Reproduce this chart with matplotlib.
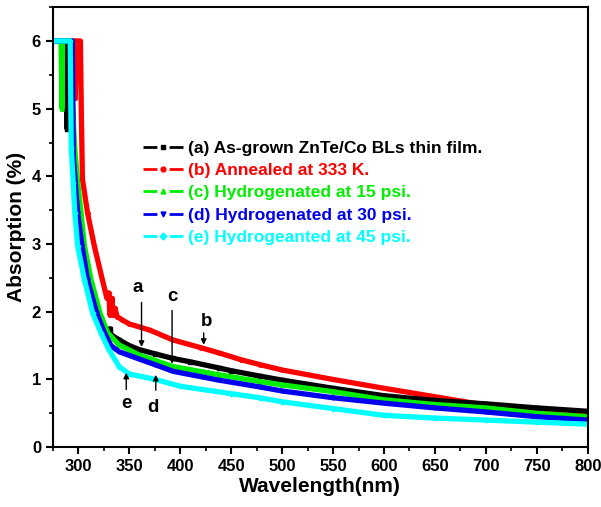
import matplotlib
matplotlib.use("Agg")
from matplotlib import pyplot as plt
from matplotlib.lines import Line2D
from matplotlib.ticker import MultipleLocator

plt.rcParams['font.family'] = ['Liberation Sans', 'DejaVu Sans']
plt.rcParams['font.weight'] = 'bold'

# (a) as-grown
wl_a = [275, 285, 288.5, 289, 289.5, 292, 296, 299, 303, 306, 309, 312, 316, 321, 325, 330, 331, 332,
        340, 350, 360, 375, 393, 410, 438, 450, 478, 500, 550, 600, 650, 700, 750, 800]
ab_a = [6, 6, 6, 4.7, 6, 6, 4.3, 3.7, 3.1, 2.85, 2.55, 2.35, 2.05, 1.85, 1.75, 1.68, 1.75, 1.66,
        1.585, 1.50, 1.44, 1.38, 1.31, 1.26, 1.17, 1.13, 1.05, 0.99, 0.87, 0.76, 0.69, 0.64, 0.58, 0.53]

# (b) annealed
wl_b = [285, 287.5, 288, 288.5, 296, 297, 298, 302, 303, 304, 309, 315.7, 323.6, 328, 330, 331, 332,
        333, 334, 336, 338, 343, 350, 370, 392.6, 420, 438.5, 460, 478, 500, 550, 600, 650, 700, 750, 800]
ab_b = [6, 6, 5.17, 6, 6, 5.15, 6, 6, 4.87, 3.96, 3.46, 2.97, 2.47, 2.2, 2.28, 1.95, 2.08,
        2.2, 1.95, 2.05, 1.93, 1.88, 1.82, 1.73, 1.585, 1.47, 1.39, 1.29, 1.22, 1.14, 1.0, 0.87, 0.745,
        0.62, 0.53, 0.47]

# (c) 15 psi
wl_c = [275, 283, 284, 284.5, 293, 294, 296, 299, 302.6, 306, 312.5, 321.3, 328.8, 340, 360, 393,
        438, 478, 500, 550, 600, 650, 700, 750, 800]
ab_c = [6, 6, 5.0, 6, 6, 5.2, 4.5, 3.95, 3.46, 2.97, 2.47, 1.98, 1.69, 1.51, 1.36, 1.19,
        1.07, 0.97, 0.92, 0.82, 0.70, 0.63, 0.58, 0.50, 0.45]

# (d) 30 psi
wl_d = [275, 294, 295, 297, 299.3, 303.6, 309, 318, 325.5, 332, 340, 360, 375, 393, 438, 478, 500,
        550, 600, 650, 700, 750, 800]
ab_d = [6, 6, 4.3, 3.9, 3.46, 2.97, 2.47, 1.98, 1.69, 1.50, 1.41, 1.30, 1.22, 1.12, 0.99, 0.89, 0.83,
        0.73, 0.65, 0.58, 0.52, 0.45, 0.40]

# (e) 45 psi
wl_e = [275, 292, 293, 295, 296.5, 299.3, 306, 314, 322, 330, 340, 350, 373, 400, 450, 478, 500,
        550, 600, 650, 700, 750, 800]
ab_e = [6, 6, 4.42, 3.9, 3.46, 2.97, 2.47, 1.98, 1.69, 1.44, 1.19, 1.08, 1.01, 0.90, 0.79, 0.73, 0.67,
        0.57, 0.47, 0.43, 0.40, 0.37, 0.34]

labels = ['(a) As-grown ZnTe/Co BLs thin film.', '(b) Annealed at 333 K.',
          '(c) Hydrogenated at 15 psi.', '(d) Hydrogenated at 30 psi.',
          '(e) Hydrogeanted at 45 psi.']
colors = ['black', 'red', '#00ee00', '#0000ee', 'cyan']
markers = ['s', 'o', '^', 'v', 'D']
series = [(wl_a, ab_a), (wl_b, ab_b), (wl_c, ab_c), (wl_d, ab_d), (wl_e, ab_e)]

# arrow annotations: letter, text position, arrow tail, arrow head
notes = [('a', (358, 2.36), (362, 2.18), (362, 1.44)),
         ('b', (426, 1.85), (423, 1.73), (423, 1.47)),
         ('c', (392, 2.22), (392, 2.06), (392, 1.19)),
         ('d', (373, 0.59), (376, 0.80), (376, 1.11)),
         ('e', (347, 0.65), (347, 0.81), (347, 1.14))]

fig = plt.figure(figsize=(6.01, 5.07), dpi=100)
ax = fig.add_axes([0.088, 0.118, 0.890, 0.868])

for i in [1, 0, 2, 3, 4]:
    wl, ab = series[i]
    ax.plot(wl, ab, color=colors[i], lw=3.8, marker=markers[i], ms=2.5)

for letter, tpos, tail, head in notes:
    ax.annotate('', xy=head, xytext=tail,
                arrowprops=dict(arrowstyle='-|>', color='black', lw=1, mutation_scale=8))
    ax.text(tpos[0], tpos[1], letter, fontsize=13.5, fontweight='bold', ha='center', va='center')

# legend handles: dash - symbol - dash
handles = [Line2D([], [], color=c, lw=2, marker=m, ms=3.5, dashes=(5, 4.4))
           for c, m in zip(colors, markers)]
leg = ax.legend(handles, labels, loc='upper left', bbox_to_anchor=(0.168, 0.697),
                frameon=False, fontsize=12.5, handlelength=2.3, handletextpad=0.3,
                labelspacing=0.42, borderpad=0, borderaxespad=0, numpoints=1)
for txt, c in zip(leg.get_texts(), colors):
    txt.set_color(c)
    txt.set_fontweight('bold')

ax.set_xlim(275, 800)
ax.set_ylim(0, 6.5)
ax.xaxis.set_major_locator(MultipleLocator(50))
ax.xaxis.set_minor_locator(MultipleLocator(25))
ax.yaxis.set_major_locator(MultipleLocator(1))
ax.yaxis.set_minor_locator(MultipleLocator(0.5))
ax.tick_params(which='major', direction='out', length=5, width=1.5, labelsize=12)
ax.tick_params(which='minor', direction='out', length=3, width=1.2)
for lab in ax.get_xticklabels() + ax.get_yticklabels():
    lab.set_fontweight('bold')
for sp in ax.spines.values():
    sp.set_linewidth(1.5)

ax.set_xlabel('Wavelength(nm)', fontsize=15, fontweight='bold', labelpad=2)
ax.set_ylabel('Absorption (%)', fontsize=15, fontweight='bold', labelpad=4)

fig.savefig('out.png', dpi=100)
